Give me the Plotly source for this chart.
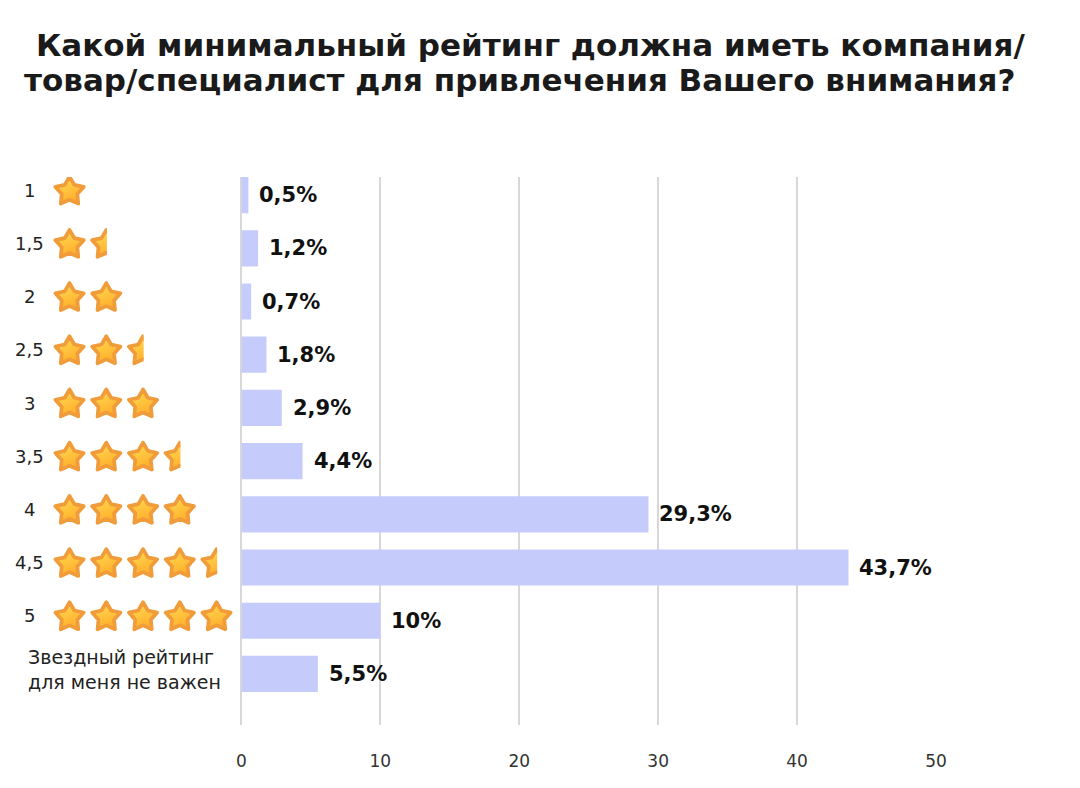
import base64
import plotly.graph_objects as go

# ---------------- data ----------------
categories = ["1", "1,5", "2", "2,5", "3", "3,5", "4", "4,5", "5",
              "Звездный рейтинг для меня не важен"]
star_counts = [1, 1.5, 2, 2.5, 3, 3.5, 4, 4.5, 5, 0]
values = [0.5, 1.2, 0.7, 1.8, 2.9, 4.4, 29.3, 43.7, 10, 5.5]
x_ticks = [0, 10, 20, 30, 40, 50]
title_lines = ["Какой минимальный рейтинг должна иметь компания/",
               "товар/специалист для привлечения Вашего внимания?"]

W, H = 1080, 788
MT, MB = 177, 63
FONT = "DejaVu Sans"


def py2paper(py):
    return (H - MB - py) / (H - MT - MB)


# ---------------- star images ----------------
STAR_PATH = ("M16,5 L19.88,11.66 L27.41,13.29 L22.28,19.04 L23.05,26.71 "
             "L16,23.6 L8.95,26.71 L9.72,19.04 L4.59,13.29 L12.12,11.66 Z")


def star_src(half):
    clip = ('<clipPath id="c"><rect x="0" y="0" width="16.5" height="32"/></clipPath>'
            if half else "")
    attr = ' clip-path="url(#c)"' if half else ""
    svg = ('<svg xmlns="http://www.w3.org/2000/svg" width="64" height="64" viewBox="0 0 32 32">'
           '<defs><linearGradient id="g" x1="0.3" y1="0" x2="0.7" y2="1">'
           '<stop offset="0" stop-color="#FFDA50"/><stop offset="1" stop-color="#FFA928"/>'
           '</linearGradient>' + clip + '</defs>'
           '<path d="' + STAR_PATH + '" fill="url(#g)" stroke="#F09C3A" stroke-width="3" '
           'stroke-linejoin="round"' + attr + '/></svg>')
    return "data:image/svg+xml;base64," + base64.b64encode(svg.encode()).decode()


FULL = star_src(False)
HALF = star_src(True)

fig = go.Figure()

fig.add_trace(go.Bar(
    x=values, y=categories, orientation="h",
    marker=dict(color="#c5cbfb", line=dict(width=0)),
    hoverinfo="skip", showlegend=False,
))

# invisible trace so the star subplot exists
fig.add_trace(go.Scatter(x=[0], y=[0], xaxis="x2", yaxis="y2", mode="markers",
                         marker=dict(opacity=0), hoverinfo="skip", showlegend=False))

# value labels
for i, v in enumerate(values):
    fig.add_annotation(
        x=v, y=i, xref="x", yref="y", xanchor="left", yanchor="middle",
        xshift=9, showarrow=False,
        text="<b>" + f"{v:g}".replace(".", ",") + "%</b>",
        font=dict(family=FONT, size=21, color="#111111"),
    )

# left labels and stars
images = []
for i, (cat, s) in enumerate(zip(categories, star_counts)):
    if s > 0:
        fig.add_annotation(
            x=25 / W, y=i, xref="paper", yref="y2", xanchor="center", yanchor="middle",
            showarrow=False, text=cat,
            font=dict(family=FONT, size=18, color="#222222"),
        )
        full = int(s)
        half = (s - full) >= 0.5
        for k in range(1, full + 1):
            images.append(dict(source=FULL, xref="x2", yref="y2", x=k, y=i,
                               sizex=1.08, sizey=0.76, xanchor="center", yanchor="middle",
                               sizing="contain", layer="above"))
        if half:
            images.append(dict(source=HALF, xref="x2", yref="y2", x=full + 1, y=i,
                               sizex=1.08, sizey=0.76, xanchor="center", yanchor="middle",
                               sizing="contain", layer="above"))
    else:
        fig.add_annotation(
            x=21 / W, y=i, xref="paper", yref="y2", xanchor="left", yanchor="middle",
            showarrow=False, align="left", text=cat.replace("рейтинг ", "рейтинг<br>"),
            font=dict(family=FONT, size=19, color="#222222"),
        )

# title lines
for line, cx, cy in zip(title_lines, [533, 522], [45, 80]):
    fig.add_annotation(
        x=cx / W, y=py2paper(cy), xref="paper", yref="paper",
        xanchor="center", yanchor="middle", showarrow=False,
        text="<b>" + line + "</b>",
        font=dict(family=FONT, size=31, color="#1a1a1a"),
    )

fig.update_layout(
    images=images,
    width=W, height=H,
    margin=dict(l=0, r=0, t=MT, b=MB),
    paper_bgcolor="white", plot_bgcolor="white",
    bargap=0.32,
    xaxis=dict(
        domain=[240 / W, 945 / W], range=[0, 50],
        tickvals=x_ticks, ticktext=[str(t) for t in x_ticks],
        showgrid=True, gridcolor="#d8d8d8", gridwidth=1.5,
        zeroline=True, zerolinecolor="#d8d8d8", zerolinewidth=1.5,
        showline=False, ticks="", ticklabelstandoff=24,
        tickfont=dict(family=FONT, size=17, color="#333333"),
        fixedrange=True,
    ),
    yaxis=dict(
        type="category", categoryorder="array", categoryarray=categories,
        range=[9.96, -0.34], showticklabels=False, showgrid=False,
        zeroline=False, showline=False, ticks="", fixedrange=True,
    ),
    xaxis2=dict(domain=[0, 240 / W], range=[-0.756, 5.678], anchor="y2",
                visible=False, fixedrange=True),
    yaxis2=dict(domain=[0, 1], range=[9.96 + 0.09, -0.34 + 0.09], anchor="x2",
                visible=False, fixedrange=True),
)

fig.write_html("out.html")
